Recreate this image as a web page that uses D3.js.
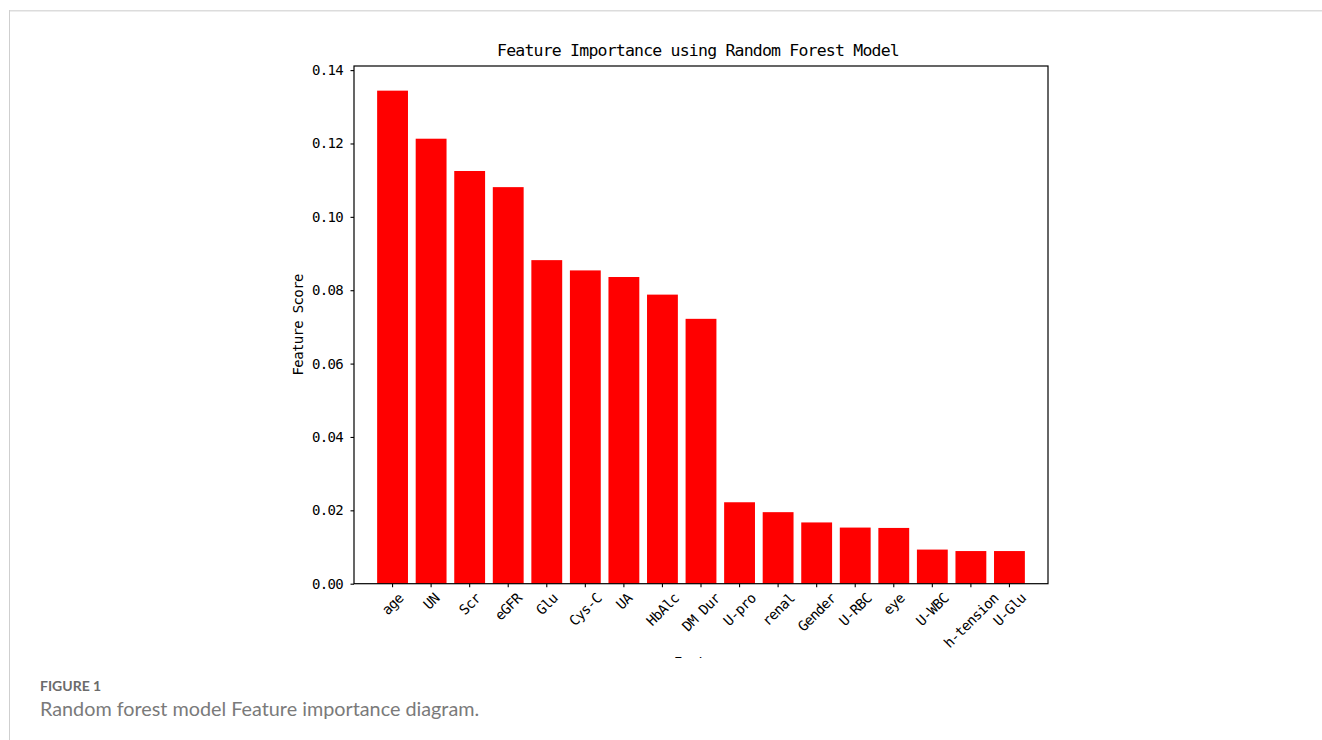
<!DOCTYPE html>
<html>
<head>
<meta charset="utf-8">
<script src="https://cdn.jsdelivr.net/npm/d3@7"></script>
<style>
  html, body { margin: 0; padding: 0; background: #fff; }
  svg { display: block; }
</style>
</head>
<body>
<svg id="chart" width="1322" height="740"></svg>
<script>
// Feature importances from the random forest model, sorted descending
const features = ["age", "UN", "Scr", "eGFR", "Glu", "Cys-C", "UA", "HbAlc", "DM Dur",
                  "U-pro", "renal", "Gender", "U-RBC", "eye", "U-WBC", "h-tension", "U-Glu"];
const importance = [0.1344, 0.1213, 0.1125, 0.1081, 0.0882, 0.0854, 0.0836, 0.0788, 0.0722,
                    0.0222, 0.0195, 0.0167, 0.0153, 0.0152, 0.0093, 0.0089, 0.0089];
const yTicks = [0, 0.02, 0.04, 0.06, 0.08, 0.10, 0.12, 0.14];

const titleText = "Feature Importance using Random Forest Model";
const xLabel = "Feature";
const yLabel = "Feature Score";
const figLabel = "FIGURE 1";
const figCaption = "Random forest model Feature importance diagram.";

const svg = d3.select("#chart");
const W = 1322, H = 740;
const plot = { left: 354, right: 1048, top: 66, bottom: 583.7 };
const monoFont = "'DejaVu Sans Mono', 'Liberation Mono', monospace";
const tickFs = 14, tickLs = -0.65;

svg.append("rect").attr("width", W).attr("height", H).attr("fill", "#fff");

// card frame
svg.append("rect").attr("x", 10).attr("y", 10).attr("width", W - 10).attr("height", 1.5).attr("fill", "#dcdcdc");
svg.append("line").attr("x1", 9.5).attr("x2", 9.5).attr("y1", 10).attr("y2", H)
  .attr("stroke", "#cfcfcf").attr("stroke-width", 1);

// the figure image is cropped just below the rotated tick labels
svg.append("defs").append("clipPath").attr("id", "figclip")
  .append("rect").attr("x", 0).attr("y", 0).attr("width", W).attr("height", 658);
const fig = svg.append("g").attr("clip-path", "url(#figclip)");

const maxV = d3.max(importance);
const x = d3.scaleBand().domain(features).range([plot.left, plot.right])
  .paddingInner(0.2).paddingOuter(0.6);
const y = d3.scaleLinear().domain([0, maxV * 1.05]).range([plot.bottom, plot.top]);

// bars
fig.append("g").selectAll("rect").data(features).join("rect")
  .attr("x", d => x(d))
  .attr("width", x.bandwidth())
  .attr("y", (d, i) => y(importance[i]))
  .attr("height", (d, i) => y(0) - y(importance[i]))
  .attr("fill", "#ff0000");

// frame around the axes
fig.append("rect")
  .attr("x", plot.left).attr("y", plot.top)
  .attr("width", plot.right - plot.left).attr("height", plot.bottom - plot.top)
  .attr("fill", "none").attr("stroke", "#000").attr("stroke-width", 1.2);

// y axis
const yAxis = d3.axisLeft(y).tickValues(yTicks).tickFormat(d3.format(".2f"))
  .tickSize(3.5).tickPadding(7.5);
const yg = fig.append("g").attr("transform", `translate(${plot.left},0)`).call(yAxis);
yg.select(".domain").remove();
yg.selectAll(".tick line").attr("stroke", "#000").attr("stroke-width", 1.1);
yg.selectAll(".tick text")
  .attr("font-family", monoFont).attr("font-size", tickFs).attr("letter-spacing", tickLs)
  .attr("fill", "#000");

// x axis: ticks only, labels rotated 45° and centred under each tick
const xAxis = d3.axisBottom(x).tickSize(3.5).tickFormat("");
const xg = fig.append("g").attr("transform", `translate(0,${plot.bottom})`).call(xAxis);
xg.select(".domain").remove();
xg.selectAll(".tick line").attr("stroke", "#000").attr("stroke-width", 1.1);

const labelTop = plot.bottom + 3.5 + 3.5;
const xLabels = fig.append("g").selectAll("text").data(features).join("text")
  .attr("font-family", monoFont).attr("font-size", tickFs).attr("letter-spacing", tickLs)
  .attr("fill", "#000").attr("text-anchor", "middle").attr("dominant-baseline", "central")
  .text(d => d);
xLabels.each(function (d) {
  const w = this.getComputedTextLength();
  const half = (w + tickFs) * Math.SQRT1_2 / 2;
  const cx = x(d) + x.bandwidth() / 2;
  const cy = labelTop + half;
  d3.select(this).attr("x", cx).attr("y", cy).attr("transform", `rotate(-45,${cx},${cy})`);
});

// title
fig.append("text")
  .attr("x", (plot.left + plot.right) / 2 - 3).attr("y", 56)
  .attr("text-anchor", "middle")
  .attr("font-family", monoFont).attr("font-size", 16.5).attr("letter-spacing", -0.8)
  .attr("fill", "#000").text(titleText);

// axis labels
fig.append("text")
  .attr("transform", `translate(303,${(plot.top + plot.bottom) / 2}) rotate(-90)`)
  .attr("text-anchor", "middle")
  .attr("font-family", monoFont).attr("font-size", tickFs).attr("letter-spacing", tickLs)
  .attr("fill", "#000").text(yLabel);

fig.append("text")
  .attr("x", (plot.left + plot.right) / 2).attr("y", 666.5)
  .attr("text-anchor", "middle")
  .attr("font-family", monoFont).attr("font-size", tickFs).attr("letter-spacing", tickLs)
  .attr("fill", "#000").text(xLabel);

// caption
svg.append("text").attr("x", 40).attr("y", 691)
  .attr("font-family", "Lato, 'Open Sans', sans-serif").attr("font-weight", 700)
  .attr("font-size", 14).attr("fill", "#6b6b6b").text(figLabel);
svg.append("text").attr("x", 40).attr("y", 716)
  .attr("font-family", "Lato, 'Open Sans', sans-serif")
  .attr("font-size", 19.8).attr("fill", "#7a7a7a").text(figCaption);
</script>
</body>
</html>
